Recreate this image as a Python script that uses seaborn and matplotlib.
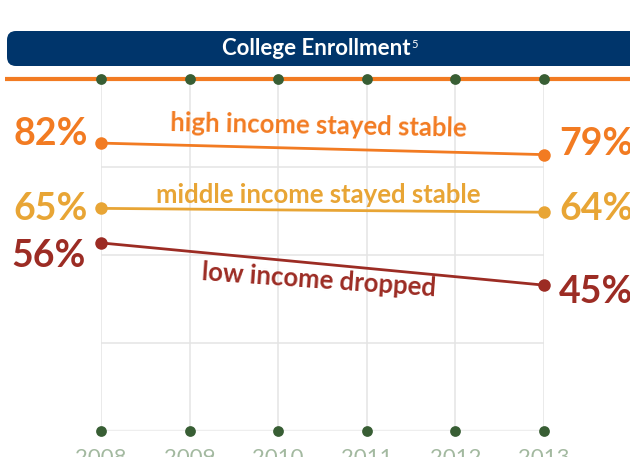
import matplotlib
matplotlib.use("Agg")
import matplotlib.pyplot as plt
from matplotlib.patches import FancyBboxPatch
import seaborn as sns
import numpy as np
import pandas as pd

# ---------------------------------------------------------------------------
# data
# ---------------------------------------------------------------------------
years = [2008, 2013]
year_ticks = [2008, 2009, 2010, 2011, 2012, 2013]
high_income = [82, 79]
middle_income = [65, 64]
low_income = [56, 45]
groups = ["high", "middle", "low"]
notes = ["high income stayed stable", "middle income stayed stable", "low income dropped"]
title = "College Enrollment"
footnote = "5"

# colours
ORANGE = "#F27B22"
GOLD = "#E8A535"
RED = "#9C2C24"
NAVY = "#00356B"
GREEN = "#385E34"
YEAR_C = "#A3B9A0"
GRID_C = "#E4E4E4"
palette = {"high": ORANGE, "middle": GOLD, "low": RED}

df = pd.DataFrame({
    "year": years * 3,
    "value": high_income + middle_income + low_income,
    "group": [g for g in groups for _ in years],
})

sns.set_theme(style="white")
plt.rcParams["font.family"] = ["Lato", "DejaVu Sans"]

fig = plt.figure(figsize=(6.3, 4.57), dpi=100)

# background layer in pixel coords (banner + title)
bg = fig.add_axes([0, 0, 1, 1], zorder=0)
bg.set_xlim(0, 630)
bg.set_ylim(457, 0)
bg.axis("off")
bg.add_patch(FancyBboxPatch((7, 31), 660, 35, boxstyle="round,pad=0,rounding_size=9",
                            fc=NAVY, ec="none"))
t = bg.text(316, 48.5, title, color="white", fontsize=16, fontweight="bold",
            ha="center", va="center")
bg.annotate(footnote, xy=(1, 1), xycoords=t, xytext=(1, -1), textcoords="offset points",
            fontsize=8, color="white", va="top", ha="left")

# main chart
ax = fig.add_axes([101 / 630, 26 / 457, 443 / 630, 352 / 457], zorder=1)
ax.patch.set_alpha(0)
y_lo, y_hi = 7, 98.7

sns.lineplot(data=df, x="year", y="value", hue="group", palette=palette,
             marker="o", markersize=9, markeredgewidth=0, linewidth=2,
             legend=False, ax=ax, clip_on=False, zorder=5)

ax.set_xlim(2008, 2013)
ax.set_ylim(y_lo, y_hi)
ax.set_xticks(year_ticks)
ax.set_yticks(np.linspace(y_lo, y_hi, 5))
ax.set(xlabel="", ylabel="")
ax.set_yticklabels([])
ax.grid(True, color=GRID_C, lw=1.1, zorder=0)
ax.set_axisbelow(True)
sns.despine(ax=ax, left=True, bottom=True, top=True, right=True)
ax.tick_params(length=0)
ax.tick_params(axis="x", pad=12, labelsize=16, labelcolor=YEAR_C)

ax.axhline(y_lo, color="#EEEEEE", lw=2.5, zorder=1)
ax.plot([-0.217, 1.3], [1, 1], transform=ax.transAxes, clip_on=False,
        color=ORANGE, lw=3, zorder=2, solid_capstyle="butt")

for yv in (y_hi, y_lo):
    sns.scatterplot(x=year_ticks, y=[yv] * len(year_ticks), color=GREEN, s=60,
                    linewidth=0, clip_on=False, zorder=6, ax=ax)

# value labels
series = [high_income, middle_income, low_income]
colors = [ORANGE, GOLD, RED]
left_off = [(-13, -2), (-13, -12), (-15, -24)]
right_off = [(15, 0), (15, -8), (15, -18)]
for vals, c, lo, ro in zip(series, colors, left_off, right_off):
    ax.annotate(f"{vals[0]}%", xy=(years[0], vals[0]), xytext=lo, textcoords="offset pixels",
                ha="right", va="baseline", color=c, fontsize=27, fontweight="bold",
                annotation_clip=False)
    ax.annotate(f"{vals[1]}%", xy=(years[1], vals[1]), xytext=ro, textcoords="offset pixels",
                ha="left", va="baseline", color=c, fontsize=27, fontweight="bold",
                annotation_clip=False)

# line notes
note_off = [(-4, 23), (-4, 15), (-4, -16)]
note_rot = [-1.1, 0, -4]
for vals, c, txt, off, rot in zip(series, colors, notes, note_off, note_rot):
    mid = (vals[0] + vals[1]) / 2
    ax.annotate(txt, xy=(np.mean(years), mid), xytext=off, textcoords="offset pixels",
                ha="center", va="center", color=c, fontsize=18.5, fontweight="bold",
                rotation=rot, rotation_mode="anchor")

fig.savefig("out.png", dpi=100, facecolor="white")
